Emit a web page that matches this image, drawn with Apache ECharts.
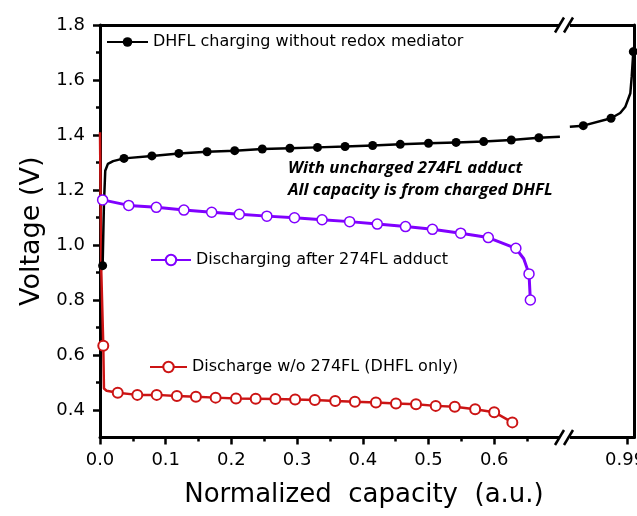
<!DOCTYPE html>
<html><head><meta charset="utf-8">
<script src="https://cdn.jsdelivr.net/npm/echarts@6/dist/echarts.min.js"></script>
<style>html,body{margin:0;padding:0;background:#fff}#c{width:637px;height:516px}</style>
</head><body><div id="c"></div>
<script>
// ---- tick values ----
const xTickLabels = [0.0, 0.1, 0.2, 0.3, 0.4, 0.5, 0.6];
const xMinorTicks = [0.05, 0.15, 0.25, 0.35, 0.45, 0.55, 0.65];
const xRightTicks = [0.99];
const yTickLabels = [0.4, 0.6, 0.8, 1.0, 1.2, 1.4, 1.6, 1.8];
const yMinorTicks = [0.5, 0.7, 0.9, 1.1, 1.3, 1.5, 1.7];

// ---- series names ----
const nameCharge = 'DHFL charging without redox mediator';
const nameAdduct = 'Discharging after 274FL adduct';
const nameDhfl = 'Discharge w/o 274FL (DHFL only)';

// ---- DHFL charging (left part of the broken axis) ----
const chargeX = [0.004, 0.006, 0.008, 0.012, 0.02, 0.0365, 0.079, 0.12, 0.163, 0.205, 0.247, 0.289, 0.331, 0.373, 0.415, 0.457, 0.5, 0.542, 0.584, 0.626, 0.668, 0.70];
const chargeY = [0.925, 1.15, 1.27, 1.295, 1.305, 1.315, 1.324, 1.333, 1.339, 1.343, 1.349, 1.352, 1.355, 1.358, 1.362, 1.366, 1.370, 1.373, 1.376, 1.382, 1.390, 1.394];
const chargeMark = [1, 0, 0, 0, 0, 1, 1, 1, 1, 1, 1, 1, 1, 1, 1, 1, 1, 1, 1, 1, 1, 0];

// ---- DHFL charging (right part of the broken axis) ----
const chargeRX = [0.907, 0.9265, 0.9667, 0.980, 0.9875, 0.9947, 0.9967, 0.999, 1.0];
const chargeRY = [1.430, 1.434, 1.461, 1.480, 1.503, 1.552, 1.612, 1.703, 1.72];
const chargeRMark = [0, 1, 1, 0, 0, 0, 0, 1, 0];

// ---- Discharging after 274FL adduct ----
const adductX = [0.004, 0.0437, 0.0857, 0.1277, 0.17, 0.212, 0.254, 0.296, 0.338, 0.38, 0.422, 0.465, 0.506, 0.549, 0.591, 0.633, 0.645, 0.653, 0.655];
const adductY = [1.164, 1.144, 1.137, 1.127, 1.119, 1.112, 1.105, 1.099, 1.092, 1.085, 1.076, 1.067, 1.057, 1.043, 1.027, 0.988, 0.95, 0.895, 0.80];
const adductMark = [1, 1, 1, 1, 1, 1, 1, 1, 1, 1, 1, 1, 1, 1, 1, 1, 0, 1, 1];

// ---- Discharge w/o 274FL (DHFL only) ----
const dhflX = [0.0, 0.002, 0.005, 0.006, 0.01, 0.027, 0.0568, 0.0863, 0.117, 0.146, 0.176, 0.207, 0.237, 0.267, 0.297, 0.327, 0.358, 0.388, 0.42, 0.4505, 0.481, 0.511, 0.540, 0.571, 0.600, 0.6276];
const dhflY = [1.41, 0.90, 0.634, 0.478, 0.470, 0.463, 0.455, 0.455, 0.451, 0.448, 0.445, 0.442, 0.441, 0.440, 0.438, 0.436, 0.433, 0.430, 0.427, 0.424, 0.421, 0.415, 0.412, 0.403, 0.392, 0.355];
const dhflMark = [0, 0, 1, 0, 0, 1, 1, 1, 1, 1, 1, 1, 1, 1, 1, 1, 1, 1, 1, 1, 1, 1, 1, 1, 1, 1];

function build(xs, ys, marks) {
  return xs.map((x, i) => ({ value: [x, ys[i]], symbol: marks[i] ? 'circle' : 'none' }));
}

const FONT = 'DejaVu Sans';
const BLACK = '#000000';
const PURPLE = '#8000ff';
const RED = '#cc1414';

const yMin = 0.3, yMax = 1.8;
const axLine = { show: true, lineStyle: { color: BLACK, width: 3 } };
const noLabel = { show: false };

const chart = echarts.init(document.getElementById('c'), null, { renderer: 'canvas' });

const option = {
  animation: false,
  backgroundColor: '#fff',
  grid: [
    { left: 100, top: 25, width: 465, height: 412.5, containLabel: false, outerBoundsMode: 'none' },
    { left: 565, top: 25, width: 69, height: 412.5, containLabel: false, outerBoundsMode: 'none' }
  ],
  xAxis: [
    { gridIndex: 0, type: 'value', min: 0, max: 0.70776, position: 'bottom',
      axisLine: axLine, splitLine: { show: false },
      axisTick: { show: true, customValues: xTickLabels, length: 7, lineStyle: { color: BLACK, width: 2.5 } },
      axisLabel: { customValues: xTickLabels, formatter: v => v.toFixed(1), margin: 14, fontSize: 18, fontFamily: FONT, color: BLACK },
      name: 'Normalized  capacity  (a.u.)', nameLocation: 'middle', nameGap: 45,
      nameTextStyle: { fontSize: 26, fontFamily: FONT, color: BLACK, padding: [0, 0, 0, 63] } },
    { gridIndex: 0, type: 'value', min: 0, max: 0.70776, position: 'bottom',
      axisLine: { show: false }, splitLine: { show: false }, axisLabel: noLabel,
      axisTick: { show: true, customValues: xMinorTicks, length: 4, lineStyle: { color: BLACK, width: 2.5 } } },
    { gridIndex: 0, type: 'value', min: 0, max: 0.70776, position: 'top',
      axisLine: axLine, splitLine: { show: false }, axisLabel: noLabel, axisTick: { show: false } },
    { gridIndex: 1, type: 'value', min: 0.9, max: 1.0, position: 'bottom',
      axisLine: axLine, splitLine: { show: false },
      axisTick: { show: true, customValues: xRightTicks, length: 7, lineStyle: { color: BLACK, width: 2.5 } },
      axisLabel: { customValues: xRightTicks, formatter: v => '{a|' + v.toFixed(2) + '}', margin: 14,
        rich: { a: { fontSize: 18, fontFamily: FONT, color: BLACK, padding: [0, 4, 0, 0] } } } },
    { gridIndex: 1, type: 'value', min: 0.9, max: 1.0, position: 'top',
      axisLine: axLine, splitLine: { show: false }, axisLabel: noLabel, axisTick: { show: false } }
  ],
  yAxis: [
    { gridIndex: 0, type: 'value', min: yMin, max: yMax, position: 'left',
      axisLine: axLine, splitLine: { show: false },
      axisTick: { show: true, customValues: yTickLabels, length: 7, lineStyle: { color: BLACK, width: 2.5 } },
      axisLabel: { customValues: yTickLabels, formatter: v => v.toFixed(1), margin: 15, fontSize: 18, fontFamily: FONT, color: BLACK },
      name: 'Voltage (V)', nameLocation: 'middle', nameGap: 52,
      nameTextStyle: { fontSize: 27, fontFamily: FONT, color: BLACK } },
    { gridIndex: 0, type: 'value', min: yMin, max: yMax, position: 'left',
      axisLine: { show: false }, splitLine: { show: false }, axisLabel: noLabel,
      axisTick: { show: true, customValues: yMinorTicks, length: 4, lineStyle: { color: BLACK, width: 2.5 } } },
    { gridIndex: 1, type: 'value', min: yMin, max: yMax, position: 'right',
      axisLine: axLine, splitLine: { show: false }, axisLabel: noLabel, axisTick: { show: false } }
  ],
  legend: [
    { data: [nameCharge], left: 106, top: 34, padding: 0, itemWidth: 41, itemHeight: 12, selectedMode: false,
      textStyle: { fontSize: 16, fontFamily: FONT, color: BLACK } },
    { data: [nameAdduct], left: 150, top: 252, padding: 0, itemWidth: 40, itemHeight: 13, selectedMode: false,
      textStyle: { fontSize: 16, fontFamily: FONT, color: BLACK } },
    { data: [nameDhfl], left: 149, top: 359, padding: 0, itemWidth: 37, itemHeight: 13, selectedMode: false,
      textStyle: { fontSize: 16, fontFamily: FONT, color: BLACK } }
  ],
  series: [
    { name: nameDhfl, type: 'line', xAxisIndex: 0, yAxisIndex: 0, data: build(dhflX, dhflY, dhflMark),
      symbol: 'circle', symbolSize: 10, showAllSymbol: true,
      lineStyle: { color: RED, width: 2.5 }, itemStyle: { color: '#fff', borderColor: RED, borderWidth: 2 } },
    { name: nameAdduct, type: 'line', xAxisIndex: 0, yAxisIndex: 0, data: build(adductX, adductY, adductMark),
      symbol: 'circle', symbolSize: 10, showAllSymbol: true,
      lineStyle: { color: PURPLE, width: 3 }, itemStyle: { color: '#fff', borderColor: PURPLE, borderWidth: 1.5 } },
    { name: nameCharge, type: 'line', xAxisIndex: 0, yAxisIndex: 0, data: build(chargeX, chargeY, chargeMark),
      symbol: 'circle', symbolSize: 9, showAllSymbol: true,
      lineStyle: { color: BLACK, width: 2.5 }, itemStyle: { color: BLACK } },
    { name: nameCharge, type: 'line', xAxisIndex: 3, yAxisIndex: 2, data: build(chargeRX, chargeRY, chargeRMark),
      symbol: 'circle', symbolSize: 9, showAllSymbol: true,
      lineStyle: { color: BLACK, width: 2.5 }, itemStyle: { color: BLACK } }
  ],
  graphic: [
    // axis break marks (bottom)
    { type: 'rect', shape: { x: 559, y: 433, width: 11, height: 9 }, style: { fill: '#fff' }, z: 100 },
    { type: 'line', shape: { x1: 555, y1: 445, x2: 564, y2: 430 }, style: { stroke: BLACK, lineWidth: 2.5 }, z: 101 },
    { type: 'line', shape: { x1: 564, y1: 445, x2: 573, y2: 430 }, style: { stroke: BLACK, lineWidth: 2.5 }, z: 101 },
    // axis break marks (top)
    { type: 'rect', shape: { x: 559, y: 20.5, width: 11, height: 9 }, style: { fill: '#fff' }, z: 100 },
    { type: 'line', shape: { x1: 555, y1: 32.5, x2: 564, y2: 17.5 }, style: { stroke: BLACK, lineWidth: 2.5 }, z: 101 },
    { type: 'line', shape: { x1: 564, y1: 32.5, x2: 573, y2: 17.5 }, style: { stroke: BLACK, lineWidth: 2.5 }, z: 101 },
    // annotations
    { type: 'text', x: 288, y: 168, z: 100,
      style: { text: 'With uncharged 274FL adduct', font: 'italic bold 16.8px "Open Sans"', fill: BLACK, verticalAlign: 'middle' } },
    { type: 'text', x: 288, y: 190, z: 100,
      style: { text: 'All capacity is from charged DHFL', font: 'italic bold 16.8px "Open Sans"', fill: BLACK, verticalAlign: 'middle' } }
  ]
};
chart.setOption(option);
</script></body></html>
